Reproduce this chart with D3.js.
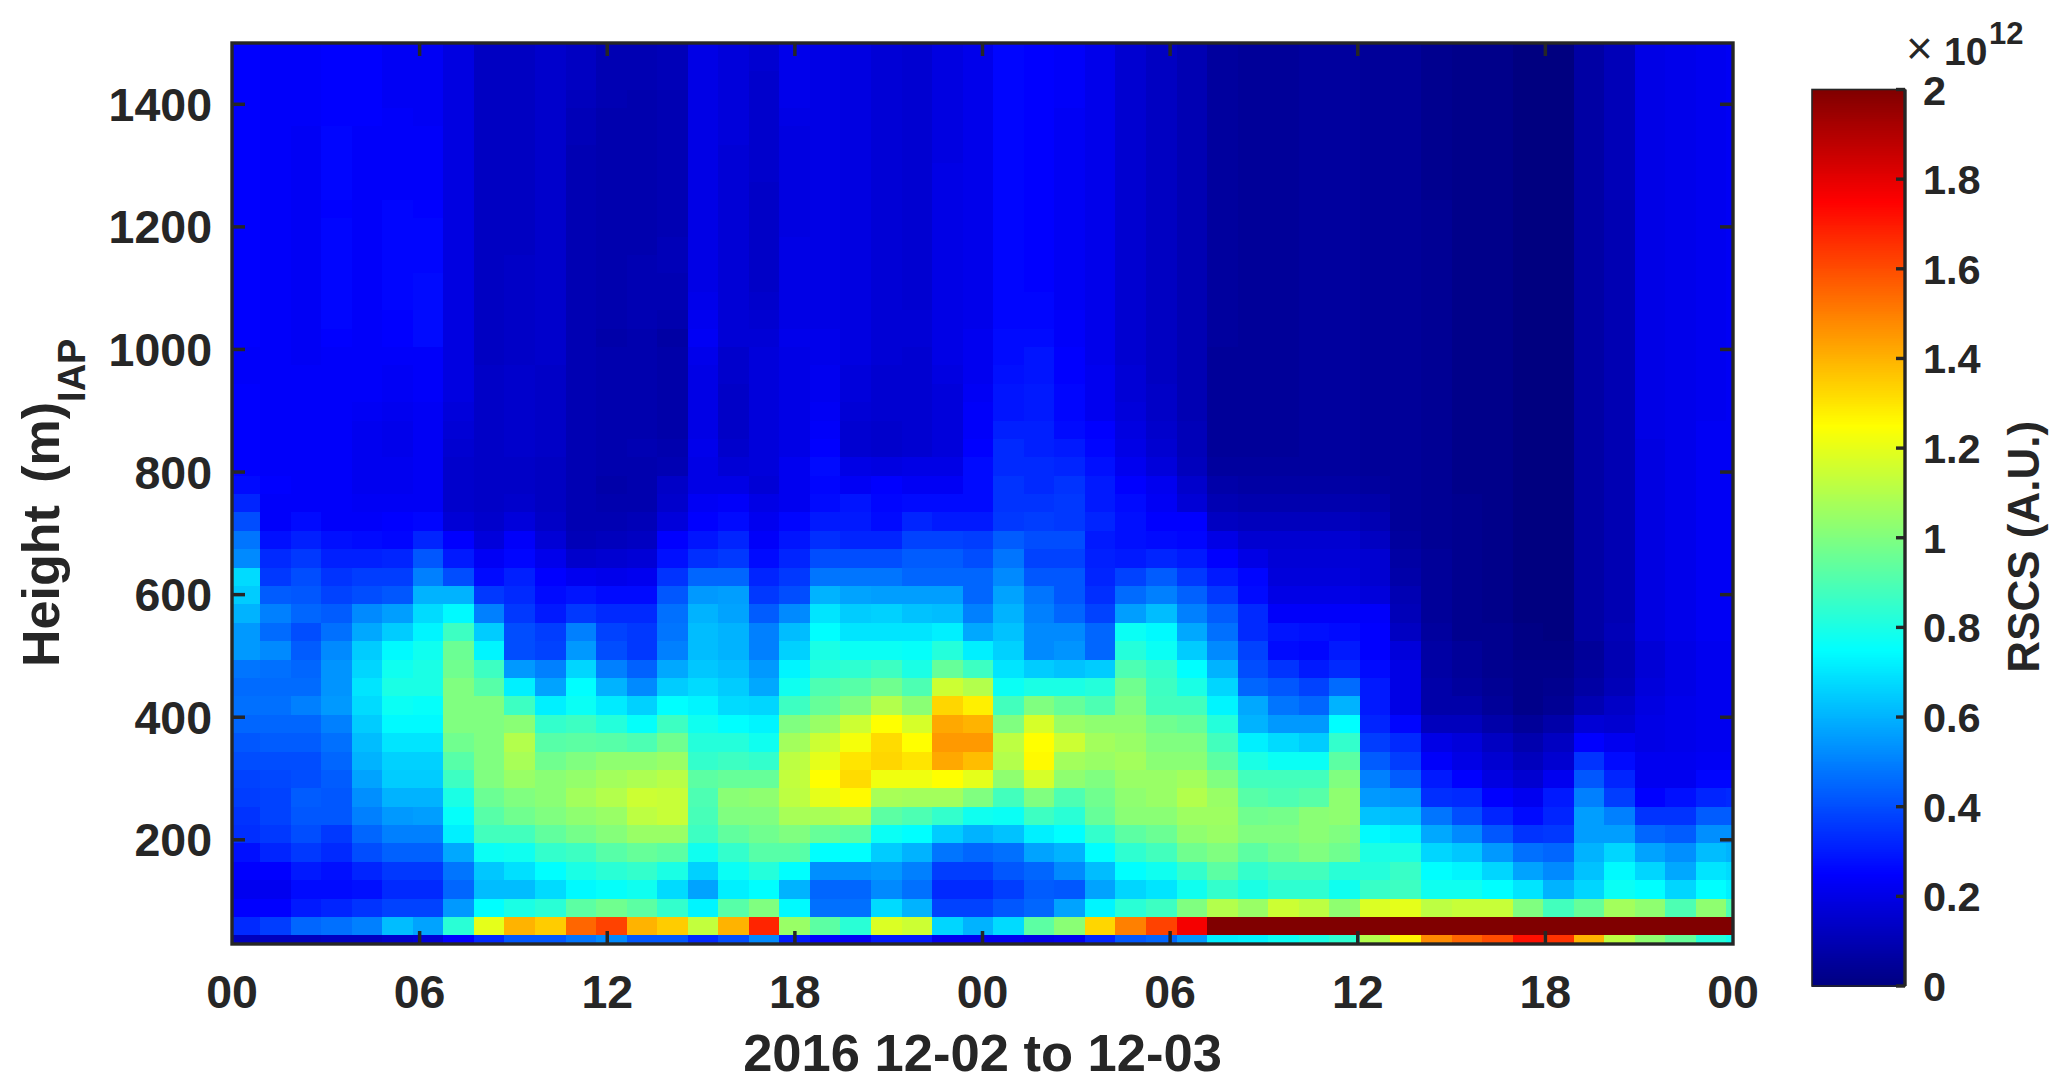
<!DOCTYPE html>
<html><head><meta charset="utf-8">
<script src="https://cdn.jsdelivr.net/npm/d3@7"></script>
<style>html,body{margin:0;padding:0;background:#fff}svg{display:block}text{font-family:"Liberation Sans",Arial,sans-serif;font-weight:700;fill:#262626}</style>
</head><body><div id="chart"></div>
<script>
// RSCS values in units of 10^12, one array per height gate, one entry per time column
const h30=[.12,.12,.12,.13,.13,.15,.17,.25,.33,.42, .42,.48,.52,.42,.42,.33,.4,.52,.3,.25, .23,.3,.3,.22,.22,.22,.2,.22,.32,.42, .45,.55,.72,.73,.77,.8,.84,1.1,1.27,1.48, 1.55,1.6,1.72,1.65,1.4,1.12,1.03,.95,.82,.78];
const h60=[.33,.37,.45,.47,.5,.62,.57,.83,1.2,1.4, 1.35,1.55,1.62,1.4,1.35,1.13,1.4,1.68,1.05,.93, .83,1.18,1.15,.67,.6,.68,.93,1.02,1.33,1.5, 1.62,1.77,2,2,2,2,2,2,2,2, 2,2,2,2,2,2,2,2,2,2];
const h90=[.25,.25,.3,.32,.35,.38,.38,.55,.75,.8, .83,.93,.97,.93,.85,.73,.92,1,.74,.47, .47,.68,.6,.38,.38,.42,.45,.57,.73,.83, .87,1,1.1,1.05,1.15,1.12,1.03,1.18,1.2,1.12, 1.14,1.14,1,.88,.95,1.07,1.03,.9,1.03,.9];
const h120=[.22,.22,.27,.27,.28,.33,.33,.45,.62,.62, .68,.74,.76,.78,.68,.57,.72,.75,.6,.45, .45,.52,.47,.33,.33,.37,.43,.42,.57,.67, .7,.78,.85,.8,.84,.84,.78,.86,.87,.78, .78,.75,.7,.6,.67,.77,.75,.67,.75,.72];
const h150=[.25,.25,.3,.28,.32,.36,.36,.48,.64,.69, .75,.8,.83,.85,.8,.66,.77,.82,.75,.53, .53,.55,.5,.37,.37,.42,.45,.52,.62,.75, .78,.85,.93,.85,.88,.88,.83,.82,.86,.75, .73,.67,.57,.52,.63,.74,.67,.58,.7,.68];
const h180=[.28,.32,.36,.33,.4,.44,.44,.58,.77,.78, .85,.87,.92,.95,.93,.78,.85,.92,.92,.75, .75,.65,.6,.48,.45,.47,.57,.6,.75,.84, .88,.97,1,.93,.97,1,.97,.8,.8,.67, .64,.55,.47,.45,.6,.67,.57,.53,.62,.6];
const h210=[.34,.36,.4,.36,.45,.5,.5,.72,.88,.88, .94,.98,1.01,1.05,1.05,.87,.94,.97,1,.95, .93,.77,.75,.65,.6,.63,.72,.75,.85,.93, .96,1.03,1.05,1,1,1.02,1,.74,.72,.58, .52,.42,.35,.36,.56,.56,.45,.43,.53,.53];
const h240=[.35,.38,.42,.42,.5,.55,.56,.76,.92,.97, 1,1.03,1.05,1.12,1.14,.89,1,1,1.08,1.08, 1.1,.93,.9,.85,.78,.77,.87,.83,.95,1.02, 1.02,1.06,1.06,.97,.98,1.02,1.03,.63,.62,.48, .4,.32,.27,.32,.56,.5,.35,.35,.43,.43];
const h270=[.37,.38,.43,.42,.53,.6,.6,.8,.96,1, 1.02,1.07,1.1,1.15,1.14,.9,1.02,1.03,1.12,1.2, 1.26,1.08,1.07,1.07,1,.88,1,.9,.97,1.03, 1.05,1.1,1.05,.92,.9,.92,1.03,.55,.54,.34, .33,.25,.22,.3,.5,.37,.25,.28,.32,.33];
const h300=[.38,.39,.4,.43,.57,.65,.65,.87,1,1.05, 1.02,1.04,1.07,1.09,1.11,.93,.95,.95,1.13,1.25, 1.32,1.22,1.22,1.25,1.2,1.03,1.17,1.03,1,1.05, 1.05,1.07,1,.88,.88,.88,1,.5,.43,.3, .25,.19,.16,.22,.42,.32,.22,.22,.26,.26];
const h330=[.4,.4,.4,.45,.6,.66,.66,.92,1,1.08, .97,1,1.03,1.03,1.05,.85,.87,.85,1.12,1.2, 1.3,1.33,1.3,1.42,1.38,1.1,1.26,1.07,1.05,1.07, 1.02,1.02,.93,.8,.77,.77,.93,.43,.37,.24, .2,.16,.12,.16,.35,.27,.22,.22,.23,.23];
const h360=[.42,.43,.43,.47,.62,.7,.7,.97,1,1.1, .92,.93,.92,.9,.97,.82,.82,.78,1.07,1.15, 1.23,1.32,1.25,1.45,1.45,1.12,1.25,1.15,1.07,1.05, 1,1,.88,.72,.68,.65,.85,.37,.33,.2, .18,.13,.09,.13,.25,.22,.2,.21,.22,.22];
const h390=[.45,.45,.45,.5,.65,.74,.74,1,1,1.02, .85,.87,.82,.76,.87,.78,.75,.73,1,1.05, 1.15,1.25,1.17,1.42,1.4,1,1.17,1.05,1.03,1.03, .97,.95,.82,.6,.55,.55,.75,.32,.26,.12, .12,.08,.05,.08,.17,.16,.2,.21,.22,.22];
const h420=[.47,.47,.5,.55,.68,.77,.76,1,1,.87, .72,.77,.71,.66,.75,.73,.68,.67,.87,.95, 1,1.1,1.02,1.33,1.28,.88,1,.95,.9,1, .88,.88,.73,.58,.48,.45,.6,.3,.2,.08, .08,.05,.02,.04,.1,.14,.19,.21,.22,.22];
const h450=[.46,.46,.46,.54,.7,.8,.8,1,.92,.72, .57,.75,.6,.52,.65,.68,.65,.58,.78,.9, .92,.97,.9,1.15,1.1,.77,.8,.8,.82,.97, .87,.8,.67,.45,.42,.38,.46,.3,.2,.08, .06,.04,.02,.03,.07,.11,.18,.2,.22,.22];
const h480=[.48,.47,.45,.54,.67,.78,.8,.97,.87,.55, .5,.67,.5,.44,.58,.64,.62,.55,.73,.82, .84,.87,.8,.95,.87,.7,.65,.63,.65,.9, .85,.75,.6,.4,.35,.3,.33,.27,.2,.07, .05,.03,.02,.02,.06,.1,.17,.2,.22,.22];
const h510=[.55,.52,.43,.52,.65,.74,.78,.96,.73,.4, .38,.55,.4,.36,.5,.62,.6,.5,.66,.8, .77,.77,.76,.82,.72,.66,.52,.54,.45,.82, .77,.65,.52,.38,.27,.26,.3,.25,.18,.07, .05,.03,.01,.01,.05,.1,.17,.2,.22,.22];
const h540=[.55,.46,.4,.47,.58,.65,.73,.87,.65,.4, .37,.5,.38,.36,.48,.62,.6,.5,.62,.75, .7,.7,.7,.72,.58,.63,.52,.52,.45,.77, .74,.58,.47,.33,.29,.28,.27,.25,.13,.06, .03,.03,.01,0,.07,.11,.19,.21,.23,.23];
const h570=[.6,.5,.45,.43,.52,.56,.68,.74,.5,.36, .3,.36,.33,.33,.47,.6,.57,.43,.52,.7, .65,.66,.63,.62,.5,.6,.5,.45,.38,.56, .62,.5,.43,.33,.24,.24,.24,.24,.11,.05, .03,.02,0,0,.07,.1,.19,.21,.23,.23];
const h600=[.65,.43,.42,.38,.4,.42,.6,.6,.36,.33, .27,.29,.27,.27,.42,.55,.56,.36,.4,.6, .57,.56,.56,.56,.45,.57,.48,.42,.34,.46, .5,.44,.36,.27,.2,.2,.2,.18,.1,.05, .03,.02,0,0,.07,.1,.19,.21,.23,.23];
const h630=[.68,.36,.4,.35,.37,.37,.5,.4,.27,.31, .25,.22,.21,.22,.35,.45,.45,.32,.36,.48, .48,.48,.45,.45,.45,.52,.42,.42,.32,.38, .43,.36,.3,.26,.18,.18,.18,.16,.08,.05, .03,.02,0,0,.07,.1,.19,.21,.23,.23];
const h660=[.52,.33,.36,.31,.31,.32,.42,.3,.23,.26, .21,.15,.16,.17,.28,.34,.36,.27,.32,.4, .4,.4,.43,.43,.4,.48,.38,.38,.31,.3, .32,.3,.25,.2,.17,.17,.17,.16,.07,.05, .03,.02,0,0,.07,.1,.19,.21,.23,.23];
const h690=[.48,.28,.31,.28,.27,.26,.32,.25,.18,.24, .17,.11,.12,.13,.25,.29,.32,.24,.29,.34, .32,.32,.38,.38,.37,.43,.4,.4,.3,.28, .27,.26,.2,.16,.16,.16,.16,.13,.06,.04, .03,.02,0,0,.07,.1,.19,.21,.23,.23];
const h720=[.4,.24,.27,.24,.24,.25,.26,.17,.15,.18, .14,.1,.1,.11,.18,.25,.27,.22,.26,.3, .3,.27,.32,.3,.3,.36,.37,.36,.32,.28, .25,.25,.13,.12,.12,.12,.12,.1,.05,.04, .03,.02,0,0,.07,.1,.19,.21,.23,.23];
const h750=[.32,.24,.24,.24,.23,.23,.23,.15,.14,.15, .13,.1,.09,.09,.15,.23,.24,.2,.22,.27, .29,.26,.27,.27,.27,.35,.35,.36,.3,.27, .23,.17,.1,.09,.09,.09,.09,.08,.05,.04, .03,.02,0,0,.07,.1,.19,.21,.23,.23];
const h780=[.27,.25,.24,.24,.22,.22,.23,.15,.14,.14, .13,.1,.08,.09,.14,.2,.2,.17,.22,.26, .23,.25,.23,.23,.27,.35,.33,.35,.3,.25, .22,.15,.08,.07,.07,.07,.07,.06,.05,.04, .02,.02,0,0,.07,.1,.19,.21,.23,.23];
const h810=[.25,.24,.24,.24,.22,.22,.23,.15,.14,.14, .13,.1,.09,.09,.1,.2,.17,.18,.22,.27, .2,.19,.2,.2,.27,.33,.33,.32,.28,.22, .18,.12,.06,.06,.06,.06,.06,.05,.05,.04, .02,.02,0,0,.07,.1,.19,.21,.23,.23];
const h840=[.25,.24,.24,.24,.22,.21,.23,.16,.14,.15, .14,.1,.09,.1,.09,.21,.15,.18,.2,.25, .16,.15,.16,.18,.25,.33,.31,.3,.26,.2, .16,.11,.05,.05,.05,.06,.06,.05,.05,.04, .02,.02,0,0,.07,.1,.19,.21,.23,.23];
const h870=[.25,.24,.24,.24,.22,.21,.23,.17,.14,.15, .14,.1,.09,.09,.08,.2,.14,.18,.2,.24, .16,.15,.16,.18,.24,.31,.31,.27,.25,.19, .15,.11,.05,.05,.05,.06,.06,.05,.05,.04, .02,.02,0,0,.07,.1,.2,.21,.23,.23];
const h900=[.25,.24,.24,.24,.23,.22,.23,.18,.14,.15, .14,.1,.09,.09,.08,.2,.14,.18,.2,.23, .17,.16,.16,.18,.24,.29,.3,.26,.22,.18, .14,.1,.05,.05,.05,.06,.06,.05,.05,.04, .02,.02,0,0,.07,.1,.2,.21,.22,.23];
const h930=[.25,.24,.24,.24,.24,.23,.24,.19,.14,.15, .14,.1,.09,.09,.08,.2,.14,.18,.2,.22, .18,.16,.16,.18,.23,.29,.3,.26,.22,.17, .14,.1,.05,.05,.05,.06,.06,.05,.05,.04, .02,.02,0,0,.07,.1,.2,.21,.22,.23];
const h960=[.24,.24,.24,.24,.24,.23,.24,.19,.14,.15, .14,.1,.09,.09,.08,.2,.15,.18,.2,.22, .18,.16,.16,.19,.22,.28,.29,.25,.22,.17, .13,.1,.05,.05,.05,.06,.06,.05,.05,.04, .02,.02,0,0,.07,.1,.2,.21,.22,.23];
const h990=[.24,.24,.23,.24,.24,.24,.24,.19,.13,.14, .15,.1,.09,.09,.08,.21,.15,.18,.2,.21, .19,.17,.16,.2,.22,.27,.29,.25,.21,.16, .13,.1,.05,.05,.05,.06,.06,.05,.05,.04, .02,.02,0,0,.07,.1,.2,.21,.22,.23];
const h1020=[.25,.24,.23,.25,.24,.25,.27,.19,.13,.14, .15,.1,.08,.09,.07,.23,.17,.17,.21,.21, .19,.17,.17,.2,.22,.27,.27,.24,.21,.16, .13,.1,.06,.05,.05,.06,.06,.05,.05,.04, .02,.02,0,0,.07,.1,.2,.21,.22,.23];
const h1050=[.25,.24,.23,.26,.24,.25,.27,.19,.13,.14, .15,.1,.09,.1,.09,.22,.17,.16,.2,.2, .19,.17,.17,.2,.21,.26,.26,.24,.21,.16, .13,.1,.06,.05,.05,.06,.06,.05,.05,.04, .02,.02,0,0,.07,.1,.2,.21,.22,.23];
const h1080=[.25,.24,.23,.26,.24,.26,.27,.19,.13,.14, .15,.1,.09,.1,.1,.21,.17,.15,.2,.2, .19,.17,.16,.2,.21,.26,.26,.23,.21,.16, .13,.1,.06,.05,.05,.06,.06,.05,.05,.04, .02,.02,0,0,.07,.1,.2,.21,.22,.23];
const h1110=[.25,.24,.23,.26,.24,.26,.27,.19,.13,.14, .15,.1,.09,.1,.1,.2,.17,.14,.2,.2, .19,.17,.16,.2,.21,.26,.25,.23,.21,.16, .13,.1,.06,.05,.05,.06,.06,.05,.05,.04, .02,.02,0,0,.07,.1,.2,.21,.22,.23];
const h1140=[.25,.24,.23,.26,.24,.26,.26,.19,.13,.14, .15,.1,.09,.1,.11,.2,.17,.14,.2,.2, .19,.17,.16,.2,.21,.26,.25,.23,.21,.16, .13,.1,.06,.05,.05,.06,.06,.05,.05,.04, .02,.02,0,0,.07,.1,.2,.21,.22,.23];
const h1170=[.25,.24,.23,.26,.24,.26,.26,.19,.13,.13, .15,.1,.09,.09,.11,.2,.17,.14,.2,.2, .19,.17,.16,.2,.21,.26,.25,.23,.21,.16, .13,.1,.06,.05,.05,.06,.06,.05,.05,.04, .02,.02,0,0,.07,.1,.2,.21,.22,.23];
const h1200=[.25,.24,.23,.26,.24,.26,.26,.19,.13,.13, .15,.1,.09,.09,.1,.2,.17,.14,.19,.2, .19,.17,.16,.2,.21,.26,.25,.23,.21,.16, .13,.1,.06,.05,.05,.06,.06,.05,.05,.04, .02,.02,0,0,.07,.1,.2,.21,.22,.23];
const h1230=[.25,.24,.23,.25,.24,.26,.25,.19,.13,.13, .15,.1,.09,.09,.1,.2,.17,.14,.19,.2, .19,.17,.16,.2,.21,.26,.25,.23,.21,.16, .13,.1,.06,.05,.05,.06,.06,.05,.05,.04, .02,.02,0,0,.07,.1,.2,.21,.22,.23];
const h1260=[.25,.24,.23,.26,.24,.24,.24,.19,.13,.13, .15,.1,.09,.09,.1,.2,.17,.14,.19,.2, .19,.17,.16,.2,.21,.26,.25,.23,.21,.16, .13,.1,.06,.05,.05,.06,.06,.05,.05,.03, .02,.02,0,0,.07,.11,.2,.21,.22,.23];
const h1290=[.25,.24,.23,.26,.24,.24,.24,.19,.13,.13, .15,.1,.09,.09,.1,.2,.17,.15,.19,.2, .19,.17,.16,.2,.21,.26,.25,.23,.21,.16, .13,.1,.06,.05,.05,.06,.06,.05,.05,.03, .02,.02,0,0,.07,.11,.2,.21,.22,.23];
const h1320=[.25,.24,.23,.26,.24,.24,.24,.19,.13,.13, .15,.1,.09,.09,.1,.2,.17,.15,.19,.2, .19,.17,.16,.19,.21,.26,.25,.23,.21,.16, .13,.1,.06,.05,.05,.06,.06,.05,.05,.03, .02,.02,0,0,.07,.11,.2,.21,.22,.23];
const h1350=[.25,.24,.23,.26,.24,.24,.24,.19,.13,.13, .15,.11,.09,.09,.1,.2,.18,.15,.19,.2, .19,.17,.16,.19,.21,.26,.25,.23,.21,.16, .13,.1,.06,.05,.05,.06,.06,.05,.05,.03, .02,.02,0,0,.07,.11,.2,.21,.22,.23];
const h1380=[.25,.24,.24,.25,.25,.24,.23,.19,.13,.13, .15,.11,.09,.09,.1,.2,.18,.15,.2,.2, .19,.17,.16,.19,.21,.26,.25,.23,.21,.16, .13,.1,.06,.05,.05,.06,.06,.05,.05,.03, .02,.02,0,0,.07,.11,.2,.21,.22,.23];
const h1410=[.25,.24,.24,.25,.25,.23,.23,.19,.13,.13, .15,.12,.1,.09,.1,.2,.18,.15,.21,.2, .19,.17,.16,.19,.21,.26,.25,.24,.21,.16, .13,.1,.06,.05,.05,.06,.06,.05,.05,.03, .02,.02,0,0,.07,.11,.2,.21,.22,.23];
const h1440=[.25,.24,.24,.25,.25,.23,.23,.19,.13,.13, .15,.13,.1,.1,.11,.2,.18,.15,.21,.2, .19,.17,.16,.19,.21,.26,.25,.24,.21,.16, .13,.1,.06,.05,.05,.06,.06,.05,.05,.03, .02,.02,0,0,.07,.11,.2,.21,.22,.23];
const h1470=[.25,.24,.24,.25,.25,.23,.23,.19,.13,.13, .15,.13,.1,.1,.11,.2,.18,.16,.21,.2, .19,.17,.16,.19,.21,.26,.25,.24,.21,.16, .13,.1,.06,.05,.05,.06,.06,.05,.05,.03, .02,.02,0,0,.07,.11,.2,.21,.22,.23];
const h1500=[.25,.24,.24,.25,.25,.23,.23,.19,.13,.13, .15,.13,.1,.1,.11,.2,.18,.16,.21,.2, .19,.17,.16,.19,.21,.26,.25,.24,.21,.16, .13,.1,.06,.05,.05,.06,.06,.05,.05,.03, .02,.02,0,0,.07,.11,.2,.21,.22,.23];

const gateRows=[h30,h60,h90,h120,h150,h180,h210,h240,h270,h300,h330,h360,h390,h420,h450,h480,h510,h540,h570,h600,h630,h660,h690,h720,h750,h780,h810,h840,h870,h900,h930,h960,h990,h1020,h1050,h1080,h1110,h1140,h1170,h1200,h1230,h1260,h1290,h1320,h1350,h1380,h1410,h1440,h1470,h1500];
const gateHeights=gateRows.map((_,i)=>30+30*i);       // metres, gate centres
const firstColumnHour=.4065, columnHours=.977, gateHalf=15;
const xTickHours=[0,6,12,18,24,30,36,42,48];
const xTickLabels=["00","06","12","18","00","06","12","18","00"];
const yTickValues=[200,400,600,800,1000,1200,1400];
const cbTickValues=[0,.2,.4,.6,.8,1,1.2,1.4,1.6,1.8,2];
const ink="#262626";

const W=2067,H=1092;
const plot={l:232,r:1733,t:43,b:944};
const cb={l:1812,r:1905,t:89.5,b:986};
const svg=d3.select("#chart").append("svg").attr("width",W).attr("height",H).attr("viewBox",[0,0,W,H]);

const x=d3.scaleLinear().domain([0,48]).range([plot.l,plot.r]);
const y=d3.scaleLinear().domain([30,1500]).range([plot.b,plot.t]);
const jet=d3.scaleLinear()
  .domain([0,.25,.75,1.25,1.75,2])
  .range(["rgb(0,0,128)","rgb(0,0,255)","rgb(0,255,255)","rgb(255,255,0)","rgb(255,0,0)","rgb(128,0,0)"])
  .interpolate(d3.interpolateRgb).clamp(true);

svg.append("clipPath").attr("id","plotClip").append("rect")
  .attr("x",plot.l).attr("y",plot.t).attr("width",plot.r-plot.l).attr("height",plot.b-plot.t);

const cells=gateRows.flatMap((row,r)=>row.map((v,c)=>({v,c,h:gateHeights[r]})));
svg.append("g").attr("clip-path","url(#plotClip)").attr("shape-rendering","crispEdges")
  .selectAll("rect").data(cells).join("rect")
  .attr("x",d=>x(firstColumnHour+columnHours*(d.c-.5)))
  .attr("width",d=>x(firstColumnHour+columnHours*(d.c+.5))-x(firstColumnHour+columnHours*(d.c-.5))+.6)
  .attr("y",d=>y(d.h+gateHalf))
  .attr("height",d=>y(d.h-gateHalf)-y(d.h+gateHalf)+.6)
  .attr("fill",d=>jet(d.v));

// frame and inward ticks on all four sides
const tickLen=13,tickW=3.5;
const frame=svg.append("g").attr("fill","none").attr("stroke",ink);
frame.append("rect").attr("x",plot.l).attr("y",plot.t).attr("width",plot.r-plot.l).attr("height",plot.b-plot.t).attr("stroke-width",3.4);
xTickHours.slice(1,-1).forEach(t=>{
  frame.append("line").attr("x1",x(t)).attr("x2",x(t)).attr("y1",plot.b).attr("y2",plot.b-tickLen).attr("stroke-width",tickW);
  frame.append("line").attr("x1",x(t)).attr("x2",x(t)).attr("y1",plot.t).attr("y2",plot.t+tickLen).attr("stroke-width",tickW);
});
yTickValues.forEach(v=>{
  frame.append("line").attr("x1",plot.l).attr("x2",plot.l+tickLen).attr("y1",y(v)).attr("y2",y(v)).attr("stroke-width",tickW);
  frame.append("line").attr("x1",plot.r).attr("x2",plot.r-tickLen).attr("y1",y(v)).attr("y2",y(v)).attr("stroke-width",tickW);
});

const fs=46.5;
xTickHours.forEach((t,i)=>svg.append("text").attr("x",x(t)).attr("y",1008).attr("text-anchor","middle").attr("font-size",fs).text(xTickLabels[i]));
yTickValues.forEach(v=>svg.append("text").attr("x",212).attr("y",y(v)+16.5).attr("text-anchor","end").attr("font-size",fs).text(v));
svg.append("text").attr("x",x(24)).attr("y",1071).attr("text-anchor","middle").attr("font-size",52.5).text("2016 12-02 to 12-03");

const yt=svg.append("text").attr("transform","translate(58.5,667) rotate(-90)").attr("font-size",52).style("word-spacing","8px");
yt.append("tspan").text("Height (m)");
yt.append("tspan").attr("dy",26).attr("font-size",38).text("IAP");

// colour bar
const cbY=d3.scaleLinear().domain([0,2]).range([cb.b,cb.t]);
svg.append("g").attr("shape-rendering","crispEdges").selectAll("rect").data(d3.range(0,2,.004)).join("rect")
  .attr("x",cb.l).attr("width",cb.r-cb.l)
  .attr("y",d=>cbY(d+.004)).attr("height",d=>cbY(d)-cbY(d+.004)+.6)
  .attr("fill",d=>jet(d+.002));
const cf=svg.append("g").attr("fill","none").attr("stroke",ink);
cf.append("rect").attr("x",cb.l).attr("y",cb.t).attr("width",cb.r-cb.l).attr("height",cb.b-cb.t).attr("stroke-width",1.6);
cf.append("line").attr("x1",cb.r).attr("x2",cb.r).attr("y1",cb.t).attr("y2",cb.b).attr("stroke-width",3.4);
cbTickValues.forEach(v=>{
  cf.append("line").attr("x1",cb.r).attr("x2",cb.r-9).attr("y1",cbY(v)).attr("y2",cbY(v)).attr("stroke-width",3.4);
  svg.append("text").attr("x",1923).attr("y",cbY(v)+15).attr("font-size",41.5).text(v);
});
svg.append("text").attr("x",1906).attr("y",64).attr("font-size",46).style("font-weight",400).text("×");
svg.append("text").attr("x",1944).attr("y",65).attr("font-size",39).text("10");
svg.append("text").attr("x",1989).attr("y",44).attr("font-size",31).text("12");
svg.append("text").attr("transform",`translate(2039,${cbY(1)+9}) rotate(-90)`).attr("text-anchor","middle").attr("font-size",44).text("RSCS (A.U.)");
</script></body></html>
